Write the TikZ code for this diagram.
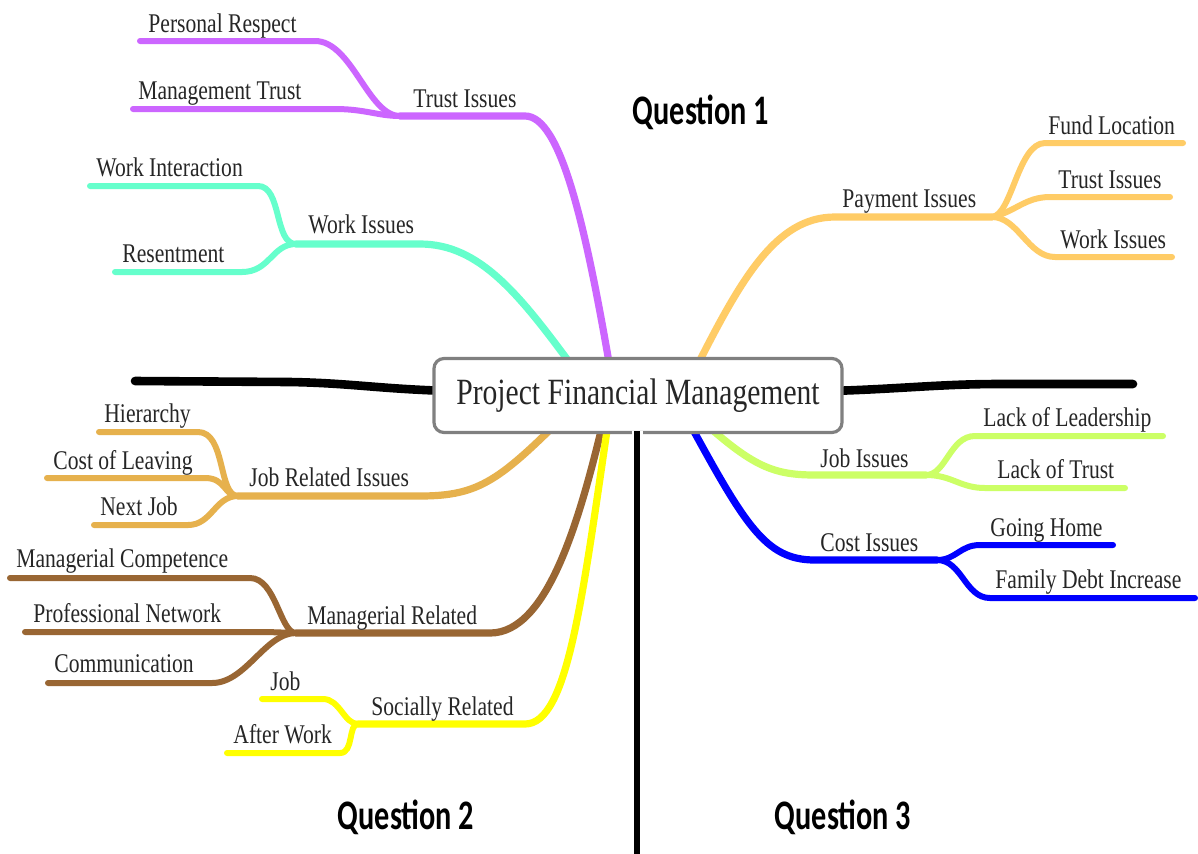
\documentclass[tikz,border=0pt]{standalone}
\usepackage{fontspec}
\newfontfamily\labfont[FakeStretch=0.8]{Liberation Serif}
\newfontfamily\qfont[FakeStretch=0.72]{Carlito}
\definecolor{cpurple}{HTML}{CC66FF}
\definecolor{cteal}{HTML}{66FFCC}
\definecolor{corange}{HTML}{FFCC66}
\definecolor{cgold}{HTML}{E6B14D}
\definecolor{cbrown}{HTML}{996633}
\definecolor{cyellow}{HTML}{FFFF00}
\definecolor{cgreen}{HTML}{CCFF66}
\definecolor{cblue}{HTML}{0000FF}
\definecolor{boxgray}{HTML}{808080}
\tikzset{
  lab/.style={font=\labfont\fontsize{13.5}{15}\selectfont, inner sep=0pt, anchor=base west, text=black!85},
  qlab/.style={font=\qfont\bfseries\fontsize{21}{24}\selectfont, inner sep=0pt},
  branch/.style={line width=3.6pt, line cap=round},
  twig/.style={line width=3pt, line cap=round},
  blackline/.style={line width=4.3pt, line cap=round, black},
}
\begin{document}
\begin{tikzpicture}[x=0.5pt,y=-0.5pt]
\useasboundingbox (0,0) rectangle (1198,853);
\fill[white] (0,0) rectangle (1198,853);

% ---------- coordinates ----------
% purple
\coordinate (p0) at (612,380);
\coordinate (pk) at (525,116);
\coordinate (pj) at (400,116);
\coordinate (pa1) at (315,41);  \coordinate (pa0) at (140,41);
\coordinate (pb1) at (335,109); \coordinate (pb0) at (133,109);
% teal
\coordinate (t0) at (575,370);
\coordinate (tk) at (420,244);
\coordinate (tj) at (296,244);
\coordinate (ta1) at (258,186); \coordinate (ta0) at (90,186);
\coordinate (tb1) at (242,272); \coordinate (tb0) at (115,272);
% orange
\coordinate (o0) at (690,380);
\coordinate (ok) at (835,217);
\coordinate (oj) at (992,217);
\coordinate (oa1) at (1045,143); \coordinate (oa0) at (1183,143);
\coordinate (ob1) at (1050,197); \coordinate (ob0) at (1170,197);
\coordinate (oc1) at (1055,257); \coordinate (oc0) at (1172,257);
% gold
\coordinate (g0) at (570,410);
\coordinate (gk) at (420,496);
\coordinate (gj) at (238,496);
\coordinate (ga1) at (198,432); \coordinate (ga0) at (99,432);
\coordinate (gb1) at (205,478); \coordinate (gb0) at (47,478);
\coordinate (gc1) at (188,525); \coordinate (gc0) at (94,525);
% brown
\coordinate (b0) at (606,410);
\coordinate (bk) at (490,633);
\coordinate (bj) at (296,633);
\coordinate (ba1) at (250,578); \coordinate (ba0) at (10,578);
\coordinate (bb1) at (267,632); \coordinate (bb0) at (25,632);
\coordinate (bc1) at (212,683); \coordinate (bc0) at (48,683);
% yellow
\coordinate (y0) at (610,410);
\coordinate (yk) at (525,724);
\coordinate (yj) at (358,724);
\coordinate (ya1) at (323,699); \coordinate (ya0) at (262,699);
\coordinate (yb1) at (340,753); \coordinate (yb0) at (227,753);
% green
\coordinate (l0) at (690,410);
\coordinate (lk) at (815,475);
\coordinate (lj) at (926,475);
\coordinate (la1) at (975,436); \coordinate (la0) at (1163,436);
\coordinate (lb1) at (985,488); \coordinate (lb0) at (1125,488);
% blue
\coordinate (c0) at (685,415);
\coordinate (ck) at (815,560);
\coordinate (cj) at (937,560);
\coordinate (ca1) at (980,545); \coordinate (ca0) at (1113,545);
\coordinate (cb1) at (990,598); \coordinate (cb0) at (1195,598);
% black lines
\coordinate (kl0) at (135,381); \coordinate (kl1) at (290,382); \coordinate (kl2) at (450,391);
\coordinate (kr0) at (1133,384); \coordinate (kr1) at (1000,384); \coordinate (kr2) at (830,391);
\coordinate (vt) at (637,431); \coordinate (vb) at (637,860);

% ---------- branches ----------
\draw[cpurple,branch] (p0) .. controls (585,220) and (560,116) .. (pk) -- (pj);
\draw[cpurple,twig] (pa0) -- (pa1) .. controls (352,41) and (368,116) .. (pj);
\draw[cpurple,twig] (pb0) -- (pb1) .. controls (365,109) and (378,116) .. (pj);

\draw[cteal,branch] (t0) .. controls (520,295) and (480,244) .. (tk) -- (tj);
\draw[cteal,twig] (ta0) -- (ta1) .. controls (282,186) and (274,244) .. (tj);
\draw[cteal,twig] (tb0) -- (tb1) .. controls (270,272) and (272,244) .. (tj);

\draw[corange,branch] (o0) .. controls (740,280) and (775,217) .. (ok) -- (oj);
\draw[corange,twig] (oj) .. controls (1012,215) and (1018,143) .. (oa1) -- (oa0);
\draw[corange,twig] (oj) .. controls (1015,212) and (1025,197) .. (ob1) -- (ob0);
\draw[corange,twig] (oj) .. controls (1018,217) and (1028,257) .. (oc1) -- (oc0);

\draw[cgold,branch] (g0) .. controls (500,480) and (480,496) .. (gk) -- (gj);
\draw[cgold,twig] (ga0) -- (ga1) .. controls (226,432) and (218,496) .. (gj);
\draw[cgold,twig] (gb0) -- (gb1) .. controls (226,478) and (224,496) .. (gj);
\draw[cgold,twig] (gc0) -- (gc1) .. controls (212,525) and (215,496) .. (gj);

\draw[cbrown,branch] (b0) .. controls (580,520) and (548,633) .. (bk) -- (bj);
\draw[cbrown,twig] (ba0) -- (ba1) .. controls (276,578) and (280,633) .. (bj);
\draw[cbrown,twig] (bb0) -- (bb1) -- (bj);
\draw[cbrown,twig] (bc0) -- (bc1) .. controls (246,683) and (265,633) .. (bj);

\draw[cyellow,branch] (y0) .. controls (582,600) and (568,724) .. (yk) -- (yj);
\draw[cyellow,twig] (ya0) -- (ya1) .. controls (340,699) and (344,724) .. (yj);
\draw[cyellow,twig] (yb0) -- (yb1) .. controls (354,753) and (348,724) .. (yj);

\draw[cgreen,branch] (l0) .. controls (750,465) and (770,475) .. (lk) -- (lj);
\draw[cgreen,twig] (lj) .. controls (946,475) and (950,436) .. (la1) -- (la0);
\draw[cgreen,twig] (lj) .. controls (952,475) and (960,488) .. (lb1) -- (lb0);

\draw[cblue,branch] (c0) .. controls (745,525) and (765,560) .. (ck) -- (cj);
\draw[cblue,twig] (cj) .. controls (956,560) and (960,545) .. (ca1) -- (ca0);
\draw[cblue,twig] (cj) .. controls (962,560) and (965,598) .. (cb1) -- (cb0);

\draw[blackline] (kl0) -- (kl1) .. controls (350,383) and (380,389) .. (kl2);
\draw[blackline] (kr0) -- (kr1) .. controls (940,384) and (900,389) .. (kr2);

% ---------- central box ----------
\node[draw=boxgray, line width=1.6pt, rounded corners=5pt, fill=white,
      minimum width=204pt, minimum height=37pt, inner sep=0pt,
      font=\labfont\fontsize{18.5}{20}\selectfont, text=black!85] (root) at (638,395.5)
      {Project Financial Management};

\draw[white, line width=5.5pt] (vt) -- (vb);
\draw[black, line width=2.8pt] (vt) -- (vb);

% ---------- labels ----------
\node[lab] (nPR) at (148,32) {Personal Respect};
\node[lab] (nMT) at (138,99) {Management Trust};
\node[lab] (nTI) at (413,107) {Trust Issues};
\node[lab] (nWI) at (96,176) {Work Interaction};
\node[lab] (nRe) at (122,262) {Resentment};
\node[lab] (nWk) at (308,233) {Work Issues};
\node[lab] (nPI) at (842,207) {Payment Issues};
\node[lab] (nFL) at (1048,134) {Fund Location};
\node[lab] (nTI2) at (1058,188) {Trust Issues};
\node[lab] (nWI2) at (1060,248) {Work Issues};
\node[lab] (nHi) at (104,422) {Hierarchy};
\node[lab] (nCL) at (53,469) {Cost of Leaving};
\node[lab] (nNJ) at (100,515) {Next Job};
\node[lab] (nJR) at (249,486) {Job Related Issues};
\node[lab] (nMC) at (16,567) {Managerial Competence};
\node[lab] (nPN) at (33,622) {Professional Network};
\node[lab] (nCo) at (54,672) {Communication};
\node[lab] (nMR) at (307,624) {Managerial Related};
\node[lab] (nJo) at (270,690) {Job};
\node[lab] (nAW) at (233,743) {After Work};
\node[lab] (nSR) at (371,715) {Socially Related};
\node[lab] (nJI) at (820,467) {Job Issues};
\node[lab] (nLL) at (983,426) {Lack of Leadership};
\node[lab] (nLT) at (997,478) {Lack of Trust};
\node[lab] (nCI) at (820,551) {Cost Issues};
\node[lab] (nGH) at (990,536) {Going Home};
\node[lab] (nFD) at (995,588) {Family Debt Increase};

\node[qlab] (q1) at (701,112) {Question 1};
\node[qlab] (q2) at (406,817) {Question 2};
\node[qlab] (q3) at (843,817) {Question 3};
\end{tikzpicture}
\end{document}
